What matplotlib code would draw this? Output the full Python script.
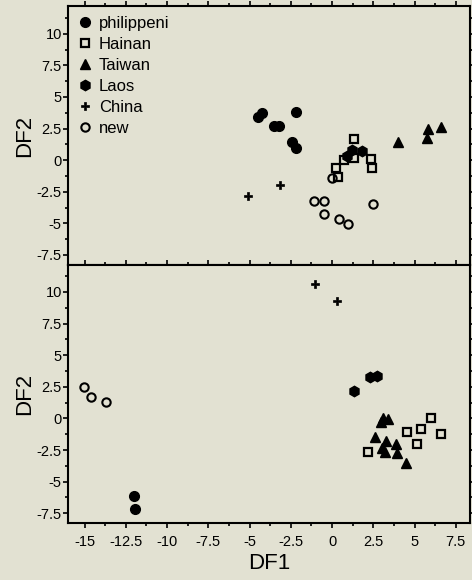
import matplotlib
matplotlib.use("Agg")
import matplotlib.pyplot as plt
from matplotlib.ticker import MultipleLocator

plt.rcParams['font.family'] = ['Liberation Sans', 'DejaVu Sans']

# ---- Top panel data ----
top_philippeni_x = [-4.48, -4.24, -3.52, -3.21, -2.18, -2.42, -2.18]
top_philippeni_y = [3.41, 3.73, 2.70, 2.70, 3.81, 1.43, 0.95]
top_hainan_x = [1.33, 0.73, 1.33, 2.36, 2.42, 0.24, 0.36]
top_hainan_y = [1.67, 0.00, 0.16, 0.08, -0.63, -0.63, -1.35]
top_taiwan_x = [4.00, 5.82, 5.76, 6.60]
top_taiwan_y = [1.43, 2.46, 1.75, 2.62]
top_laos_x = [1.21, 1.82, 0.91]
top_laos_y = [0.79, 0.71, 0.32]
top_china_x = [-3.15, -5.09]
top_china_y = [-1.98, -2.86]
top_new_x = [0.00, -1.09, -0.48, -0.48, 0.42, 0.97, 2.48]
top_new_y = [-1.43, -3.25, -3.25, -4.29, -4.68, -5.08, -3.49]

# ---- Bottom panel data ----
bot_philippeni_x = [-12.00, -11.94]
bot_philippeni_y = [-6.15, -7.17]
bot_hainan_x = [2.18, 4.55, 5.39, 6.00, 6.61, 5.15]
bot_hainan_y = [-2.68, -1.10, -0.87, 0.00, -1.26, -2.05]
bot_taiwan_x = [3.09, 3.39, 2.97, 2.61, 3.27, 3.03, 3.21, 3.88, 3.94, 4.48]
bot_taiwan_y = [0.00, -0.08, -0.32, -1.50, -1.81, -2.36, -2.68, -2.05, -2.76, -3.55]
bot_laos_x = [1.33, 2.30, 2.73]
bot_laos_y = [2.13, 3.31, 3.39]
bot_china_x = [-1.03, 0.30]
bot_china_y = [10.64, 9.30]
bot_new_x = [-15.03, -14.61, -13.70]
bot_new_y = [2.52, 1.73, 1.26]

labels = ["philippeni", "Hainan", "Taiwan", "Laos", "China", "new"]

bg = '#e2e1d2'
fig = plt.figure(figsize=(4.72, 5.80), dpi=100, facecolor=bg)
ax1 = fig.add_axes([0.1441, 0.5431, 0.8517, 0.4466], facecolor=bg)
ax2 = fig.add_axes([0.1441, 0.0983, 0.8517, 0.4448], facecolor=bg)

styles = [
    dict(marker='o', ms=7, mfc='black', mec='black'),
    dict(marker='s', ms=6, mfc='none', mec='black', mew=1.6),
    dict(marker='^', ms=7, mfc='black', mec='black'),
    dict(marker='h', ms=7.5, mfc='black', mec='black'),
    dict(marker='P', ms=6, mfc='black', mec='black', mew=0.5),
    dict(marker='o', ms=6, mfc='none', mec='black', mew=1.5),
]

top_sets = [(top_philippeni_x, top_philippeni_y), (top_hainan_x, top_hainan_y),
            (top_taiwan_x, top_taiwan_y), (top_laos_x, top_laos_y),
            (top_china_x, top_china_y), (top_new_x, top_new_y)]
bot_sets = [(bot_philippeni_x, bot_philippeni_y), (bot_hainan_x, bot_hainan_y),
            (bot_taiwan_x, bot_taiwan_y), (bot_laos_x, bot_laos_y),
            (bot_china_x, bot_china_y), (bot_new_x, bot_new_y)]

for (x, y), st, lab in zip(top_sets, styles, labels):
    ax1.plot(x, y, ls='none', label=lab, **st)
for (x, y), st in zip(bot_sets, styles):
    ax2.plot(x, y, ls='none', **st)

for ax, ylim in ((ax1, (-8.3, 12.2)), (ax2, (-8.27, 12.13))):
    ax.set_xlim(-16.0, 8.36)
    ax.set_ylim(*ylim)
    ax.xaxis.set_major_locator(MultipleLocator(2.5))
    ax.xaxis.set_minor_locator(MultipleLocator(1.25))
    ax.yaxis.set_major_locator(MultipleLocator(2.5))
    ax.yaxis.set_minor_locator(MultipleLocator(1.25))
    ax.tick_params(which='both', direction='out', top=True, right=True,
                   width=1.2, labelsize=10.5, pad=1)
    ax.tick_params(which='major', length=3.5)
    ax.tick_params(which='minor', length=2)
    for s in ax.spines.values():
        s.set_linewidth(1.5)
    ax.set_yticks([-7.5, -5, -2.5, 0, 2.5, 5, 7.5, 10])
    ax.set_yticklabels(['-7.5', '-5', '-2.5', '0', '2.5', '5', '7.5', '10'])
    ax.set_ylabel('DF2', fontsize=16, labelpad=1)

ax1.tick_params(labelbottom=False)
ax2.set_xticks([-15, -12.5, -10, -7.5, -5, -2.5, 0, 2.5, 5, 7.5])
ax2.set_xticklabels(['-15', '-12.5', '-10', '-7.5', '-5', '-2.5', '0', '2.5', '5', '7.5'])
ax2.tick_params(axis='x', pad=5)
ax2.set_xlabel('DF1', fontsize=16, labelpad=3)

leg = ax1.legend(loc='upper left', frameon=False, fontsize=12,
                 handlelength=0.8, handletextpad=0.45, labelspacing=0.36,
                 borderaxespad=0.3, borderpad=0.3)

fig.savefig('out.png', dpi=100, facecolor=bg)
